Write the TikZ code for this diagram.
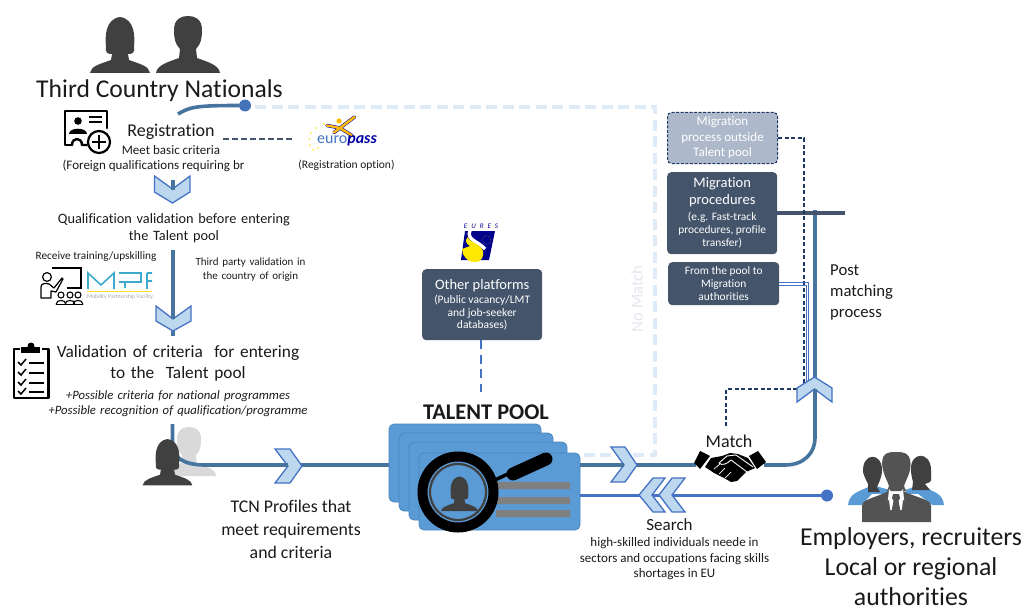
\documentclass[tikz,border=0pt]{standalone}
\usepackage{fontspec}
\setmainfont{Carlito}[Ligatures=NoCommon]
\definecolor{flow}{HTML}{47749F}
\definecolor{slate}{HTML}{44546A}
\definecolor{navy}{HTML}{203864}
\definecolor{pale}{HTML}{DEEBF7}
\definecolor{chev}{HTML}{BDD7EE}
\definecolor{chevl}{HTML}{4472C4}
\definecolor{card}{HTML}{5B9BD5}
\definecolor{cardl}{HTML}{4A86BE}
\definecolor{dk}{HTML}{404040}
\definecolor{txt}{HTML}{1A1A1A}
\definecolor{mpfteal}{HTML}{3CAACD}
\definecolor{softbox}{HTML}{ADB9CA}
\definecolor{nomatch}{HTML}{E3E7EC}
\newcommand{\fs}[2]{\fontsize{#1}{#2}\selectfont}
\newcommand{\smb}{\fs{11.4}{13.3}}
\newcommand{\smo}{\fs{11.5}{13.7}}
\newcommand{\womanshape}{(-30,56) .. controls (-29,49) and (-20,47) .. (-9,43) -- (-8,37) .. controls (-12,37) and (-15,36) .. (-14,30) .. controls (-15,20) and (-15,2) .. (0,0) .. controls (15,2) and (15,20) .. (14,30) .. controls (15,36) and (12,37) .. (8,37) -- (9,43) .. controls (20,47) and (29,49) .. (30,56) -- cycle}
\newcommand{\manshape}{(-32,57) .. controls (-31,49) and (-20,46) .. (-9,42) -- (-8,33) .. controls (-13,28) and (-14,22) .. (-14,14) .. controls (-14,3) and (-7,0) .. (0,0) .. controls (7,0) and (14,3) .. (14,14) .. controls (14,22) and (13,28) .. (8,33) -- (9,42) .. controls (20,46) and (31,49) .. (32,57) -- cycle}
\tikzset{
  flowline/.style={draw=flow,line width=3.6pt},
  chevron/.style={fill=chev,draw=chevl,line width=1.3pt,line join=miter},
  darkbox/.style={draw=none,fill=slate,rounded corners=4pt,text=white,align=center,inner sep=0pt,anchor=north west},
  lab/.style={text=txt,align=center,inner sep=0pt,yshift=-1pt},
  cardbox/.style={fill=card,draw=cardl,line width=0.8pt,rounded corners=5pt},
  icon/.style={draw=black,line width=2pt,line join=round,line cap=round},
  dot/.style={circle,fill=#1,draw=none,minimum size=12pt,inner sep=0pt}
}
\begin{document}
\begin{tikzpicture}[x=1pt,y=-1pt]
\useasboundingbox (0,0) rectangle (1024,607);
% ---- anchor coordinates
\coordinate (regstub) at (178,114);
\coordinate (palestart) at (255,107);
\coordinate (palecorner) at (655,107);
\coordinate (paleturn) at (655,455);
\coordinate (paleend) at (578,455);
\coordinate (s1a) at (172.5,180);
\coordinate (v2a) at (172.5,250);
\coordinate (v2b) at (172.5,336);
\coordinate (v3a) at (172.5,424);
\coordinate (v3b) at (205,465);
\coordinate (hsl) at (696,465);
\coordinate (hsr) at (764,465);
\coordinate (vtop) at (815,210);
\coordinate (mproc) at (845,213);
\coordinate (m1a) at (804,138);
\coordinate (m1b) at (804,386);
\coordinate (mt) at (797,389);
\coordinate (mtc) at (726,389);
\coordinate (mte) at (726,428);
\coordinate (pa1) at (808.5,282.5);
\coordinate (pa2) at (806,285);
\coordinate (pb1) at (808.5,380);
\coordinate (pb2) at (806,382);
% ---- pale no-match path
\draw[draw=pale,line width=3.5pt,dash pattern=on 11pt off 5.5pt] (palestart) -- (palecorner) -- (paleturn) -- (paleend);
% ---- icons: people top
\fill[dk,shift={(120,17)}] \womanshape;
\fill[dk,shift={(188,16)}] \manshape;
% ---- titles
\node[lab,font=\fs{25.6}{30}] (tcn) at (159.5,90) {Third Country Nationals};
\node[dot=chevl!70!flow] (regdot) at (245,105.5) {};
\draw[flowline] (regstub) .. controls (190,107) and (195,105.5) .. (regdot);
% registration icon
\draw[icon,line width=2.4pt] (72,145) -- (65,145) -- (65,111) -- (107,111) -- (107,128);
\draw[icon,line width=2.4pt] (72,145) .. controls (72,137) and (82,137) .. (82,145) -- (87,145);
\fill (78,121) circle (3.8);
\fill (69,134) .. controls (69,127) and (87,127) .. (87,134) -- cycle;
\draw[line width=1.2pt] (89,117) -- (102,117) (89,122) -- (102,122);
\draw[line width=2.2pt,fill=white] (99,142) circle (11);
\draw[line width=2.4pt] (92,142) -- (106,142) (99,135) -- (99,149);
\node[lab,font=\fs{18}{20}] (reg) at (171,131) {Registration};
\node[lab,font=\fs{13}{16}] (meet) at (171,149.5) {Meet basic criteria};
\node[lab,font=\fs{13}{16}] (foreign) at (153.5,164.5) {(Foreign qualifications requiring br};
% europass
\draw[slate,line width=2.2pt,dash pattern=on 6pt off 3pt] (223,139) -- (293,139);
\draw[blue!70!black,line width=3.4pt,line cap=round,line join=round] (327,125.5) -- (340,128) -- (354.5,117) (340,128) -- (352,135.5) (340,128) -- (334,132.5);
\draw[orange!55!yellow,line width=2.4pt,line cap=round,line join=round] (327,125.5) -- (340,128) -- (354.5,117) (340,128) -- (352,135.5) (340,128) -- (334,132.5);
\fill[orange!55!yellow] (339,121) circle (2.6);
\foreach \a/\b in {324/124,316/128,311/133,309.5/139,310/145,313/150,318/148}{\fill[yellow!85!orange] (\a,\b) circle (0.9);}
\node[inner sep=0pt,anchor=west,font=\fs{16}{16}] (euro) at (317,141) {\textcolor{chevl}{euro}\textcolor{blue!65!black}{\textbf{\textit{pass}}}};
\node[lab,font=\fs{11.5}{14}] (regopt) at (346.5,164) {(Registration option)};
% chevron 1
\draw[chevron] (154.5,176) -- (172.5,189) -- (190,176) -- (190,192) -- (172.5,203) -- (154.5,192) -- cycle;
\draw[flowline,line width=4pt] (s1a) -- (172.5,190);
\node[lab,font=\fs{14.3}{16.5},text width=260pt] (qual) at (174,227) {Qualification validation before entering\\the Talent pool};
% line 2
\draw[flowline,line width=4pt] (v2a) -- (v2b);
\node[lab,font=\fs{11.3}{14}] (train) at (96,255.5) {Receive training/upskilling};
\node[lab,font=\fs{11}{13.5},text width=130pt] (third) at (250.5,268.5) {Third party validation in\\the country of origin};
% teacher icon
\draw[line width=1.1pt] (52,268) -- (81,268) -- (81,288) -- (67,288);
\draw[line width=1.2pt,fill=white] (47,277) circle (4.4);
\draw[line width=1.2pt,line join=round,fill=white] (41,298) -- (41,287) .. controls (41,283) and (46,283) .. (49,284) -- (54,288) -- (62,278) -- (63,279) -- (56,292) -- (51,291) -- (51,298) -- cycle;
\foreach \x in {61,70,78}{\draw[line width=1.1pt] (\x,295) circle (3);\draw[line width=1.1pt] (\x-5,304.5) .. controls (\x-5,299) and (\x+5,299) .. (\x+5,304.5);}
\draw[line width=1.1pt] (56,304.5) -- (83,304.5);
% MPF
\draw[draw=mpfteal,line width=1.6pt,line join=miter] (88,289) -- (88,273) -- (101,285) -- (114,273) -- (114,289) (119,273) -- (141,273) -- (141,282) -- (119,282) (125,282) -- (125,288) (147,273) -- (152,273) (147,273) -- (147,289) (147,281) -- (152,281);
\draw[draw=yellow!75!orange!85!white,line width=1.4pt] (87,291.5) -- (152,291.5);
\node[inner sep=0pt,anchor=west,font=\fs{5.8}{7},text=gray!70] (mpf) at (87,296.5) {Mobility Partnership Facility};
% chevron 2
\draw[chevron] (156,306) -- (173,319) -- (191,306) -- (191,321) -- (173,331) -- (156,321) -- cycle;
\draw[flowline,line width=4pt] (v2a) -- (172.5,319);
% clipboard
\draw[line width=2.6pt,line join=round] (20,349) -- (14,349) -- (14,398) -- (48.5,398) -- (48.5,349) -- (42,349);
\fill (21,347) rectangle (40,353);
\fill (31,346) circle (3.5);
\foreach \y in {362,372,382,391}{
\draw[line width=1.5pt] (18,\y) -- (21,\y+3) -- (26,\y-3);
\draw[line width=1.6pt] (29,\y+1) -- (44,\y+1);}
\node[lab,font=\fs{17.3}{21.5},text width=300pt] (valid) at (178,362.5) {Validation of criteria\ \ for entering\\to the\ \ Talent pool};
\node[lab,font=\fs{12.7}{15.5}\itshape,text width=300pt] (poss) at (178,402.5) {+Possible criteria for national programmes\\+Possible recognition of qualification/programme};
% small people + line
\fill[gray!30,shift={(189,427)},scale=0.86] \manshape;
\draw[flowline] (v3a) -- (172.5,445) .. controls (172.5,458) and (185,465) .. (v3b) -- (392,465);
\fill[dk,shift={(167.5,439)},scale=0.83] \womanshape;
\draw[chevron] (275,449) -- (290,449) -- (302,466) -- (290,483) -- (275,483) -- (288,466) -- cycle;
\draw[flowline] (270,465) -- (288,465);
\node[lab,font=\fs{17.8}{23}] (prof) at (291,528) {TCN Profiles that\\meet requirements\\and criteria};
% ---- Talent pool
\node[lab,font=\fs{22.4}{24}\bfseries] (tp) at (486,411.5) {TALENT POOL};
\draw[cardbox] (389,424) rectangle (541,502);
\draw[cardbox] (399,433) rectangle (553,511);
\draw[cardbox] (409,442) rectangle (567,520);
\draw[cardbox] (419,453) rectangle (580,530);
\fill[gray] (496,482) rectangle (570,489) (496,497) rectangle (570,504) (496,510) rectangle (570,517);
\draw[line width=3.5pt] (495,480) -- (512,472);
\draw[line width=13pt,line cap=round] (513,474) -- (546,459);
\draw[line width=10pt] (458,492) circle (35.5);
\draw[dk,line width=2.2pt] (458,492) circle (28);
\fill[dk,shift={(459.5,476.5)},scale=0.62] \womanshape;
% ---- line to match
\draw[flowline] (580,465) -- (hsl);
\draw[chevron] (611,447) -- (625,447) -- (637,465) -- (625,482) -- (611,482) -- (624,465) -- cycle;
\draw[flowline] (606,465) -- (624,465);
\draw[flowline] (hsr) -- (785,465) .. controls (805,465) and (815,452) .. (815,438) -- (vtop);
\draw[flowline,draw=slate] (777,213) -- (mproc);
% ---- search
\draw[draw=chevl,line width=3.2pt] (580,495.5) -- (827,495.5);
\node[dot=chevl] (sdot) at (827,495.5) {};
\draw[chevron] (659,495) -- (672,478) -- (685,478) -- (672,495) -- (685,512) -- (672,512) -- cycle;
\draw[chevron] (639,495) -- (653,478) -- (665,478) -- (652,495) -- (665,512) -- (653,512) -- cycle;
\node[lab,font=\fs{17}{18}] (search) at (669.5,524) {Search};
\node[lab,font=\fs{13}{15.5}] (need) at (674.5,558) {high-skilled individuals neede in\\sectors and occupations facing skills\\shortages in EU};
% ---- handshake
\node[lab,font=\fs{18}{19}] (match) at (729,440) {Match};
\fill (700,451) -- (710,456) -- (700,469) -- (694,463) -- cycle;
\fill (758,451) -- (766,462) -- (757,469) -- (749,456) -- cycle;
\fill (711,458) -- (722,456) -- (730,453) -- (738,454) -- (748,458) -- (755,468) -- (746,472) -- (737,481) -- (731,482) -- (724,478) -- (714,473) -- (705,467) -- cycle;
\draw[white,line width=0.9pt,line join=round] (753,467) -- (736,455) -- (727,456) -- (719,463) .. controls (722,466) and (727,464) .. (731,460) -- (747,472);
\draw[white,line width=0.7pt] (714,469) -- (720,464) (719,474) -- (725,468) (725,478) -- (731,472);
% ---- employers
\fill[card] (848,505) .. controls (849,492) and (862,491) .. (872,485) -- (890,490) -- (880,505) -- cycle;
\fill[card] (944,505) .. controls (943,492) and (930,491) .. (920,485) -- (905,490) -- (912,505) -- cycle;
\fill[dk] (863,472) .. controls (862,452) and (882,452) .. (882,470) .. controls (882,478) and (878,484) .. (877,487) -- (880,492) -- (868,492) -- (868,484) .. controls (866,480) and (864,476) .. (863,472) -- cycle;
\fill[dk] (911,470) .. controls (910,451) and (931,451) .. (931,470) .. controls (931,477) and (932,480) .. (930,482) -- (925,484) -- (930,490) -- (912,490) -- (913,482) .. controls (912,478) and (911,474) .. (911,470) -- cycle;
\fill[white] (862,505) -- (872,494) -- (918,494) -- (932,505) -- (932,523) -- (862,523) -- cycle;
\fill[dk!90!white] (862,522) -- (862,506) .. controls (862,499) and (875,498) .. (889,491) -- (896,500) -- (903,491) .. controls (917,498) and (931,499) .. (931,506) -- (931,522) -- cycle;
\fill[dk!90!white] (883,470) .. controls (879,452) and (889,452) .. (896,452) .. controls (903,452) and (913,452) .. (910,470) .. controls (908,478) and (905,482) .. (904,486) -- (906,491) -- (887,491) -- (889,486) .. controls (888,482) and (885,478) .. (883,470) -- cycle;
\fill[white] (889,489) -- (896,498) -- (903,489) -- (905,510) -- (887,510) -- cycle;
\fill[dk!90!white] (893,494) -- (899,494) -- (900,498) -- (898.5,501) -- (901,514) -- (896,520) -- (891,514) -- (893.5,501) -- (892,498) -- cycle;
\fill[dk!90!white] (882,505) -- (889,500) -- (891,518) -- (885,522) -- cycle;
\fill[dk!90!white] (910,505) -- (903,500) -- (901,518) -- (907,522) -- cycle;
\node[lab,font=\fs{25.8}{30}] (emp) at (911,566) {Employers, recruiters\\Local or regional\\authorities};
% ---- no match
\node[font=\fs{16.7}{18},text=nomatch,rotate=90,inner sep=0pt] (nm) at (637,299) {No Match};
% ---- boxes right
\node[darkbox,fill=softbox,draw=navy,line width=1pt,dash pattern=on 3pt off 1.5pt,minimum width=110pt,minimum height=51pt,font=\fs{13}{15.5}] (mo) at (667,112) {Migration\\process outside\\Talent pool};
\node[darkbox,minimum width=110pt,minimum height=82pt,font=\fs{14.5}{16.8}] (mpr) at (667,172) {Migration\\procedures\\[-1pt]\smb (e.g. Fast-track\\[-3.5pt]\smb procedures, profile\\[-3.5pt]\smb transfer)};
\node[darkbox,minimum width=111pt,minimum height=43pt,font=\smb] (fp) at (668,262) {From the pool to\\Migration\\authorities};
\draw[draw=navy,line width=1.5pt,dash pattern=on 4pt off 2.5pt] (mo.east |- m1a) -- (m1a) -- (m1b);
\draw[draw=navy,line width=1.5pt,dash pattern=on 4pt off 2.5pt] (mt) -- (mtc) -- (mte);
\draw[draw=chevl,line width=1pt] (fp.east |- pa1) -- (pa1) -- (pb1) (fp.east |- pa2) -- (pa2) -- (pb2);
\draw[flowline] (815,395) -- (815,380);
\draw[chevron] (797,388) -- (814.5,377) -- (832,388) -- (832,402) -- (814.5,389) -- (797,402) -- cycle;
\draw[flowline] (815,389) -- (815,400);
\node[lab,font=\fs{16.7}{21},align=left,anchor=west,yshift=-1pt] (post) at (830,290) {Post\\matching\\process};
% ---- other platforms
\node[darkbox,minimum width=120pt,minimum height=71pt,font=\fs{14.5}{16}] (op) at (422,269) {Other platforms\\[-2pt]\smo (Public vacancy/LMT\\[-3pt]\smo and job-seeker\\[-3.5pt]\smo databases)};
\coordinate (opend) at (481,392);
\draw[draw=chevl,line width=2pt,dash pattern=on 9pt off 5.5pt] (op.south -| opend) -- (opend);
% EURES logo
\node[inner sep=0pt,font=\fs{7}{8}\itshape,text=blue!55!black] (eures) at (481,226) {E\hspace{4pt}U\hspace{4pt}R\hspace{4pt}E\hspace{4pt}S};
\fill[blue!55!black] (465,231) -- (495,231) -- (489,260) -- (461,260) -- cycle;
\draw[white,line width=3.4pt] (470,230.5) .. controls (466,240) and (478,241) .. (485,249);
\fill[yellow!90!orange] (468,237) .. controls (468,242) and (480,243) .. (483,251) .. controls (484,256) and (482,262) .. (475,262) .. controls (470,262) and (466,260) .. (463,254) -- (462,249) -- (470,246) .. controls (465,243) and (465,240) .. (468,237) -- cycle;
\draw[yellow!60!black,line width=0.4pt,densely dotted] (486.5,240) circle (4.5);
\end{tikzpicture}
\end{document}
